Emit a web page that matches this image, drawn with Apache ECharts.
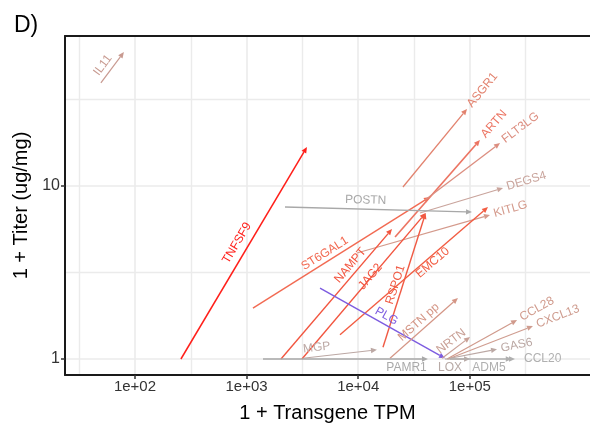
<!DOCTYPE html>
<html><head><meta charset="utf-8">
<script src="https://cdn.jsdelivr.net/npm/echarts@6/dist/echarts.min.js"></script>
<style>html,body{margin:0;padding:0;background:#fff}#c{width:590px;height:438px}</style>
</head><body><div id="c"></div>
<script>
// ---- data (values are "1 + TPM" and "1 + titer") ----
const genes     = ['IL11','TNFSF9','ST6GAL1','ASGR1','ARTN','FLT3LG','DEGS4','POSTN','KITLG','NAMPT','JAG2','RSPO1','EMC10','PLG','MSTN pp','NRTN','CCL28','CXCL13','GAS6','CCL20','MGP','PAMR1','LOX','ADM5'];
const tpmFrom   = [49.5, 258, 1140, 25180, 21400, 39700, 35800, 2208, 9750, 2033, 3133, 16680, 6870, 4550, 19280, 56400, 62500, 63800, 66500, 66500, 3200, 1403, 59950, 66500];
const tpmTo     = [79.6, 3475, 43950, 94400, 123300, 186600, 198600, 104700, 151700, 20100, 40200, 40200, 145600, 59950, 78300, 100500, 265000, 368000, 175400, 254000, 14720, 42170, 100500, 237700];
const titerFrom = [39.4, 1, 1.97, 9.87, 5.07, 8.30, 6.98, 7.56, 4.10, 1, 1, 1.17, 1.38, 2.57, 1.01, 1.01, 1, 1, 1.01, 1, 1.01, 1, 1, 1];
const titerTo   = [59.5, 16.8, 8.64, 27.9, 18.45, 17.7, 9.73, 7.07, 6.80, 5.64, 6.98, 6.98, 7.56, 1.01, 2.25, 1.34, 1.68, 1.55, 1.14, 1, 1.13, 1, 1, 1];
const xTickValues = [2, 3, 4, 5];
const yTickValues = [0, 1];

// ---- style / layout ----
const arrowColors = ['#c89a90','#ff1f1a','#f26a52','#e2826e','#ec7462','#dc8e80','#c9a49c','#a8a8a8','#d49a8c','#f2553f','#f2553f','#f05a44','#f25c42','#7d5ce0','#d49585','#c9a096','#d09a8c','#cf9d90','#bba8a4','#b0b0b0','#bca8a4','#a9a9a9','#b8aaa6','#afafaf'];
const arrowWidths = [1.2,1.5,1.4,1.3,1.6,1.3,1.2,1.3,1.2,1.4,1.4,1.4,1.4,1.4,1.2,1.2,1.2,1.2,1.2,1.2,1.2,1.3,1.2,1.2];
// ['e', gap, perp] : label after the arrow end; ['m', t, perp] : label along the arrow at fraction t
const labelPlace = [['m',0.4,9],['m',0.52,11],['m',0.43,8],['e',4,0],['e',5,0],['e',4,0],['e',4,0],['m',0.43,9],['e',4,0],['m',0.68,8],['m',0.56,1],['m',0.45,7],['m',0.6,-6],['m',0.5,8],['m',0.5,8],['m',0.5,8],['e',4,0],['e',4,0],['e',4,0],['e',9,0],['m',0.2,9],['m',0.87,-9],['m',0.2,-9],['m',0.63,-9]];

const XMIN = 1.373, XMAX = 6.077;
const chart = echarts.init(document.getElementById('c'), null, {renderer:'canvas'});
const data = genes.map((g, i) => [Math.log10(tpmFrom[i]), Math.log10(titerFrom[i]), Math.log10(tpmTo[i]), Math.log10(titerTo[i])]);

function renderItem(params, api) {
  const i = params.dataIndex;
  const p0 = api.coord([api.value(0), api.value(1)]);
  const p1 = api.coord([api.value(2), api.value(3)]);
  const dx = p1[0] - p0[0], dy = p1[1] - p0[1];
  const len = Math.hypot(dx, dy) || 1;
  const ux = dx / len, uy = dy / len;
  const nx = uy, ny = -ux;
  const headL = 6, headW = 2.7;
  const bx = p1[0] - ux * headL, by = p1[1] - uy * headL;
  const col = arrowColors[i];
  const lp = labelPlace[i];
  const rot = Math.atan2(-dy, dx);
  let tx, ty, align;
  if (lp[0] === 'e') {
    tx = p1[0] + ux * lp[1] + nx * lp[2]; ty = p1[1] + uy * lp[1] + ny * lp[2]; align = 'left';
  } else {
    tx = p0[0] + dx * lp[1] + nx * lp[2]; ty = p0[1] + dy * lp[1] + ny * lp[2]; align = 'center';
  }
  return {type:'group', children:[
    {type:'line', shape:{x1:p0[0], y1:p0[1], x2:bx, y2:by}, style:{stroke:col, lineWidth:arrowWidths[i]}},
    {type:'polygon', shape:{points:[[p1[0],p1[1]],[bx+nx*headW, by+ny*headW],[bx-nx*headW, by-ny*headW]]}, style:{fill:col}},
    {type:'text', x:tx, y:ty, rotation:rot, style:{text:genes[i], fill:col, font:'12px "Liberation Sans", Arial, sans-serif', align:align, verticalAlign:'middle'}}
  ]};
}

chart.setOption({
  animation:false,
  backgroundColor:'#ffffff',
  title:{text:'D)', left:9, top:9, textStyle:{fontSize:23, fontWeight:'normal', color:'#000', fontFamily:'Liberation Sans'}},
  grid:{left:65, top:36, right:0, bottom:63, show:false},
  xAxis:[{type:'value', min:XMIN, max:XMAX, splitNumber:5,
    name:'1 + Transgene TPM', nameLocation:'middle', nameGap:28,
    nameTextStyle:{fontSize:20, color:'#000', fontFamily:'Liberation Sans'},
    axisLine:{show:true, onZero:false, lineStyle:{color:'#1a1a1a', width:2}},
    axisTick:{show:true, length:4, customValues:xTickValues, lineStyle:{color:'#333', width:1.5}},
    axisLabel:{customValues:xTickValues, formatter:v => '1e+0' + Math.round(v), color:'#333', fontSize:15, margin:4, fontFamily:'Liberation Sans'},
    splitLine:{show:true, lineStyle:{color:'#ebebeb', width:1.6}},
    minorTick:{show:false, splitNumber:2},
    minorSplitLine:{show:true, lineStyle:{color:'#ebebeb', width:1.4}}
  },{type:'value', position:'top', min:XMIN, max:XMAX,
    axisLine:{show:true, onZero:false, lineStyle:{color:'#1a1a1a', width:2}},
    axisTick:{show:false}, axisLabel:{show:false}, splitLine:{show:false}
  }],
  yAxis:{type:'value', min:-0.0925, max:1.867, splitNumber:2,
    name:'1 + Titer (ug/mg)', nameLocation:'middle', nameGap:30,
    nameTextStyle:{fontSize:20, color:'#000', fontFamily:'Liberation Sans'},
    axisLine:{show:true, onZero:false, lineStyle:{color:'#1a1a1a', width:2}},
    axisTick:{show:true, length:4, customValues:yTickValues, lineStyle:{color:'#333', width:1.5}},
    axisLabel:{customValues:yTickValues, formatter:v => String(Math.round(Math.pow(10, v))), color:'#333', fontSize:16, margin:5, fontFamily:'Liberation Sans'},
    splitLine:{show:true, lineStyle:{color:'#ebebeb', width:1.6}},
    minorTick:{show:false, splitNumber:2},
    minorSplitLine:{show:true, lineStyle:{color:'#ebebeb', width:1.4}}
  },
  series:[{type:'custom', renderItem:renderItem, data:data, encode:{x:[0,2], y:[1,3]}, clip:false, z:5}]
});
</script></body></html>
